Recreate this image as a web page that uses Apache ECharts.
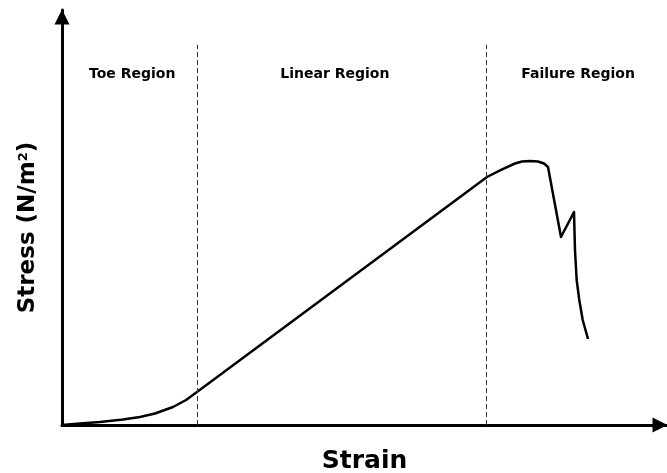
<!DOCTYPE html>
<html lang="en" style="height: 100%">
<head>
<meta charset="utf-8">
<title>Stress-Strain Curve</title>
</head>
<body style="height: 100%; margin: 0; background: #fff">
<div id="container" style="height: 100%"></div>
<script type="text/javascript" src="https://cdn.jsdelivr.net/npm/echarts/dist/echarts.min.js"></script>
<script type="text/javascript">
var dom = document.getElementById('container');
var myChart = echarts.init(dom);

// Data (arbitrary units)
var strain = [0, 2.98, 6.28, 10.08, 12.89, 15.37, 18.35, 20.50, 22.31,
    70.25, 72.40, 74.88, 76.03, 77.36, 78.68, 79.67, 80.33,
    82.48, 84.63, 84.79, 85.07, 85.50, 86.07, 86.94];
var stress = [0, 0.36, 0.72, 1.33, 1.93, 2.77, 4.34, 6.02, 7.95,
    59.76, 61.33, 63.01, 63.49, 63.61, 63.49, 63.01, 62.17,
    45.30, 51.33, 42.17, 34.94, 30.12, 25.30, 20.72];
var regionBounds = [22.3, 70.2];
var regionNames = ['Toe Region', 'Linear Region', 'Failure Region'];
var regionCenters = [11.6, 45.1, 85.3];

var curve = strain.map(function (x, i) { return [x, stress[i]]; });

var labelFont = 'DejaVu Sans';

option = {
    animation: false,
    grid: { left: 62, right: 0, top: 10, bottom: 48, outerBoundsMode: 'none' },
    xAxis: {
        type: 'value', min: 0, max: 100,
        name: 'Strain', nameLocation: 'middle', nameGap: 24,
        nameTextStyle: { fontFamily: labelFont, fontWeight: 'bold', fontSize: 25, color: '#000' },
        axisLine: { lineStyle: { color: '#000', width: 3 }, symbol: ['none', 'triangle'], symbolSize: [15, 15], symbolOffset: [0, -7] },
        axisTick: { show: false }, axisLabel: { show: false }, splitLine: { show: false }
    },
    yAxis: {
        type: 'value', min: 0, max: 100,
        name: 'Stress (N/m{sup|2})', nameLocation: 'middle', nameGap: 22,
        nameTextStyle: {
            fontFamily: labelFont, fontWeight: 'bold', fontSize: 23, color: '#000',
            padding: [0, 20, 0, 0],
            rich: { sup: { fontFamily: labelFont, fontWeight: 'bold', fontSize: 13, verticalAlign: 'top', padding: [0, 0, 10, 0], color: '#000' } }
        },
        axisLine: { lineStyle: { color: '#000', width: 3 }, symbol: ['none', 'triangle'], symbolSize: [15, 15], symbolOffset: [0, -7] },
        axisTick: { show: false }, axisLabel: { show: false }, splitLine: { show: false }
    },
    series: [{
        type: 'line',
        data: curve,
        showSymbol: false,
        lineStyle: { color: '#000', width: 2.5, join: 'round' },
        markLine: {
            silent: true, symbol: 'none', label: { show: false },
            lineStyle: { color: '#333', type: [5, 3], width: 1 },
            data: regionBounds.map(function (b) { return [{ coord: [b, 0] }, { coord: [b, 91.6] }]; })
        },
        markPoint: {
            silent: true, symbol: 'rect', symbolSize: 1,
            itemStyle: { color: 'transparent' },
            label: { show: true, color: '#000', fontFamily: labelFont, fontWeight: 'bold', fontSize: 14, formatter: '{b}' },
            data: regionNames.map(function (n, i) { return { name: n, coord: [regionCenters[i], 84.4] }; })
        }
    }]
};

myChart.setOption(option);
window.addEventListener('resize', myChart.resize);
</script>
</body>
</html>
